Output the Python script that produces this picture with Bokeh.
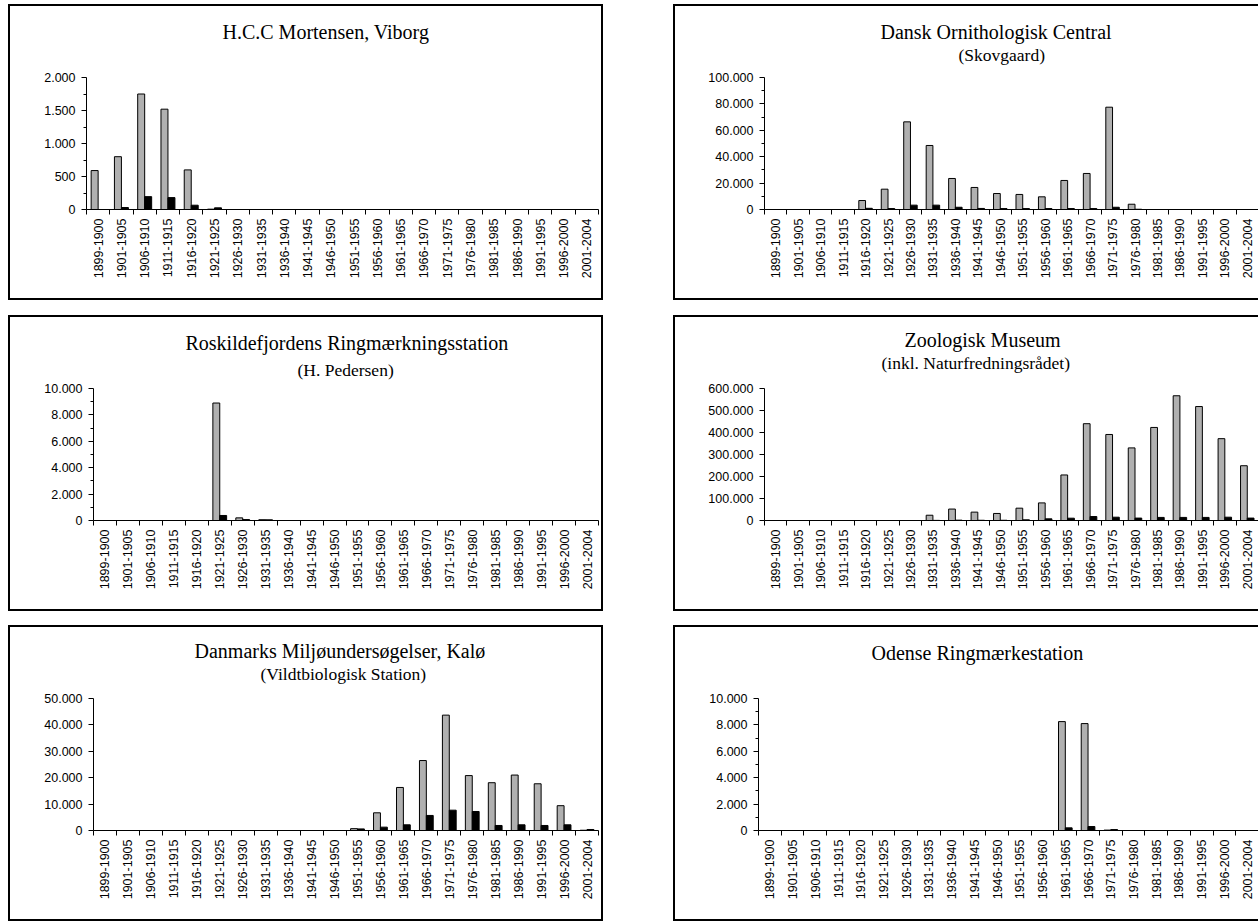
import math
from bokeh.plotting import figure
from bokeh.models import ColumnDataSource, Range1d, FixedTicker, CustomJSTickFormatter, Title, Spacer
from bokeh.layouts import row, column
from bokeh.embed import file_html
from bokeh.resources import INLINE

categories = ["1899-1900", "1901-1905", "1906-1910", "1911-1915", "1916-1920", "1921-1925",
              "1926-1930", "1931-1935", "1936-1940", "1941-1945", "1946-1950", "1951-1955",
              "1956-1960", "1961-1965", "1966-1970", "1971-1975", "1976-1980", "1981-1985",
              "1986-1990", "1991-1995", "1996-2000", "2001-2004"]

# H.C.C Mortensen, Viborg
mortensen_ringed = [590, 800, 1750, 1520, 600, 5] + [0] * 16
mortensen_recovered = [0, 30, 195, 180, 65, 25] + [0] * 16

# Dansk Ornithologisk Central (Skovgaard)
doc_ringed = [0, 0, 0, 0, 6800, 15400, 66400, 48500, 23500, 16700, 12100, 11400, 9600,
              22000, 27300, 77500, 4000, 0, 0, 0, 0, 0]
doc_recovered = [0, 0, 0, 0, 900, 700, 3300, 3300, 1700, 800, 700, 700, 700,
                 700, 700, 1700, 200, 0, 0, 0, 0, 0]

# Roskildefjordens Ringmærkningsstation (H. Pedersen)
roskilde_ringed = [0, 0, 0, 0, 0, 8900, 200, 60] + [0] * 14
roskilde_recovered = [0, 0, 0, 0, 0, 380, 70, 50] + [0] * 14

# Zoologisk Museum (inkl. Naturfredningsrådet)
zm_ringed = [0, 0, 0, 0, 0, 0, 0, 24000, 52000, 38000, 32000, 56000, 80000, 207000,
             440000, 391000, 330000, 423000, 567000, 518000, 372000, 249000]
zm_recovered = [0, 0, 0, 0, 0, 0, 0, 500, 1500, 1000, 1000, 3000, 7500, 10500,
                18000, 15000, 11000, 14000, 14000, 14000, 15000, 11000]

# Danmarks Miljøundersøgelser, Kalø (Vildtbiologisk Station)
kalo_ringed = [0] * 11 + [700, 6700, 16300, 26500, 43700, 20800, 18100, 21000, 17700, 9400, 100]
kalo_recovered = [0] * 11 + [600, 1270, 2150, 5700, 7700, 7200, 1900, 2150, 1900, 2150, 380]

# Odense Ringmærkestation
odense_ringed = [0] * 13 + [8250, 8100, 30] + [0] * 6
odense_recovered = [0] * 13 + [200, 300, 70] + [0] * 6

GREY = "#B0B0B0"
TICK_FONT = "Liberation Sans"
TITLE_FONT = "Liberation Serif"

FIG_H = 296
TOP = 71
FRAME_H = 132
BOTTOM = FIG_H - TOP - FRAME_H
LEFT_W = 595
RIGHT_W = 585


def make_panel(title, subtitle, ringed, recovered, ymax, ystep, minor, frame_left,
               title_left, sub_left, lift, title_gap, right_col):
    width = RIGHT_W if right_col else LEFT_W
    right = 2 if right_col else 7
    n = len(categories)
    p = figure(width=width, height=FIG_H, output_backend="svg", toolbar_location=None,
               x_range=Range1d(0, n), y_range=Range1d(0, ymax),
               min_border_left=frame_left, min_border_right=right,
               min_border_top=TOP, min_border_bottom=BOTTOM)
    p.xgrid.visible = False
    p.ygrid.visible = False
    p.outline_line_color = None
    p.background_fill_color = "white"
    p.border_fill_color = "white"

    pos = [i + 0.5 for i in range(n)]
    g = [(x, v) for x, v in zip(pos, ringed) if v > 0]
    b = [(x, v) for x, v in zip(pos, recovered) if v > 0]
    src_g = ColumnDataSource(dict(x=[x - 0.15 for x, _ in g], top=[v for _, v in g]))
    src_b = ColumnDataSource(dict(x=[x + 0.15 for x, _ in b], top=[v for _, v in b]))
    p.vbar(x="x", top="top", bottom=0, width=0.3, source=src_g,
           fill_color=GREY, line_color="black", line_width=1)
    p.vbar(x="x", top="top", bottom=0, width=0.3, source=src_b,
           fill_color="black", line_color="black", line_width=1)

    xa = p.xaxis[0]
    xa.ticker = FixedTicker(ticks=pos, minor_ticks=list(range(n + 1)))
    xa.formatter = CustomJSTickFormatter(args=dict(labels=categories),
                                         code="return labels[Math.floor(tick)] || '';")
    xa.major_tick_line_color = None
    xa.major_tick_out = 5
    xa.major_tick_in = 0
    xa.minor_tick_line_color = "black"
    xa.minor_tick_out = 5
    xa.minor_tick_in = 0
    xa.major_label_orientation = math.pi / 2
    xa.major_label_standoff = 4
    xa.major_label_text_font = TICK_FONT
    xa.major_label_text_font_size = "12.5px"
    xa.major_label_text_color = "black"
    xa.axis_line_color = "black"

    ya = p.yaxis[0]
    yt = list(range(0, ymax + 1, ystep))
    ym = [v + ystep // 2 for v in yt[:-1]] if minor else []
    ya.ticker = FixedTicker(ticks=yt, minor_ticks=ym)
    ya.formatter = CustomJSTickFormatter(
        code="return Math.round(tick).toString().replace(/\\B(?=(\\d{3})+(?!\\d))/g, '.');")
    ya.major_tick_out = 5
    ya.major_tick_in = 0
    ya.minor_tick_out = 3
    ya.minor_tick_in = 0
    ya.major_tick_line_color = "black"
    ya.minor_tick_line_color = "black"
    ya.major_label_standoff = 6
    ya.major_label_text_font = TICK_FONT
    ya.major_label_text_font_size = "12.5px"
    ya.major_label_text_color = "black"
    ya.axis_line_color = "black"

    # blank spacer between the frame and the title block (its height lifts the titles)
    p.add_layout(Title(text=" ", text_font_size="6px", text_color="white",
                       standoff=max(lift - 9, 0)), "above")
    if subtitle:
        p.add_layout(Title(text=subtitle, align="left", offset=sub_left - frame_left,
                           text_font=TITLE_FONT, text_font_size="17.5px",
                           text_font_style="normal", text_color="black", standoff=0), "above")
    p.add_layout(Title(text=title, align="left", offset=title_left - frame_left,
                       text_font=TITLE_FONT, text_font_size="20px",
                       text_font_style="normal", text_color="black", standoff=title_gap), "above")

    if right_col:
        p.styles = {"border": "2px solid black", "border-right": "none"}
    else:
        p.styles = {"border": "2px solid black"}
    return p


# title_left / sub_left: left edge of the text in canvas pixels
p1 = make_panel("H.C.C Mortensen, Viborg", None, mortensen_ringed, mortensen_recovered,
                2000, 500, True, 76, 212, None, 36, 0, False)
p2 = make_panel("Dansk Ornithologisk Central", "(Skovgaard)", doc_ringed, doc_recovered,
                100000, 20000, True, 89, 205, 283, 14, 0, True)
p3 = make_panel("Roskildefjordens Ringmærkningsstation", "(H. Pedersen)", roskilde_ringed,
                roskilde_recovered, 10000, 2000, True, 83, 175, 287, 10, 8, False)
p4 = make_panel("Zoologisk Museum", "(inkl. Naturfredningsrådet)", zm_ringed, zm_recovered,
                600000, 100000, False, 89, 229, 206, 17, 0, True)
p5 = make_panel("Danmarks Miljøundersøgelser, Kalø", "(Vildtbiologisk Station)", kalo_ringed,
                kalo_recovered, 50000, 10000, False, 83, 184, 250, 16, 0, False)
p6 = make_panel("Odense Ringmærkestation", None, odense_ringed, odense_recovered,
                10000, 2000, True, 83, 196, None, 36, 0, True)


def panel_row(a, b):
    return row(Spacer(width=8, height=FIG_H), a, Spacer(width=70, height=FIG_H), b)


layout = column(Spacer(width=10, height=4), panel_row(p1, p2),
                Spacer(width=10, height=15), panel_row(p3, p4),
                Spacer(width=10, height=14), panel_row(p5, p6))

open("out.html", "w").write(file_html(layout, INLINE))
